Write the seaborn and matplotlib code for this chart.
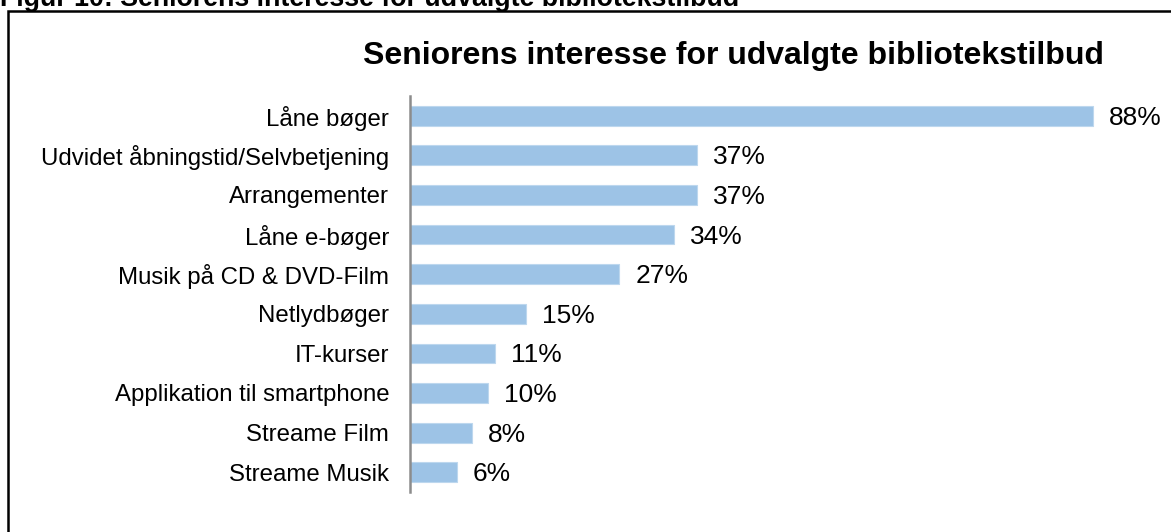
import matplotlib
matplotlib.use("Agg")
import matplotlib.pyplot as plt
import seaborn as sns
import pandas as pd
from matplotlib.patches import Rectangle

categories = [
    "Låne bøger",
    "Udvidet åbningstid/Selvbetjening",
    "Arrangementer",
    "Låne e-bøger",
    "Musik på CD & DVD-Film",
    "Netlydbøger",
    "IT-kurser",
    "Applikation til smartphone",
    "Streame Film",
    "Streame Musik",
]
values = [88, 37, 37, 34, 27, 15, 11, 10, 8, 6]
value_labels = ["88%", "37%", "37%", "34%", "27%", "15%", "11%", "10%", "8%", "6%"]

title = "Seniorens interesse for udvalgte bibliotekstilbud"
header = "Figur 10: Seniorens interesse for udvalgte bibliotekstilbud"

sns.set_theme(style="white")
plt.rcParams["font.family"] = ["Liberation Sans", "DejaVu Sans"]

W, H = 1171, 532
fig = plt.figure(figsize=(W / 100, H / 100), dpi=100)
fig.patch.set_facecolor("white")

# Frame around the figure body
fig.patches.append(Rectangle((8 / W, -0.1), 1.2, (H - 11) / H + 0.1,
                             transform=fig.transFigure, fill=False,
                             edgecolor="black", linewidth=1.8, zorder=0))

# Document caption sitting above the frame
fig.text(0.0, 1 - 6.5 / H, header, fontsize=19.3, fontweight="bold",
         ha="left", va="baseline", color="black")

ax = fig.add_axes([410 / W, 40 / H, 737 / W, 396 / H])
df = pd.DataFrame({"kategori": categories, "andel": values})
sns.barplot(data=df, y="kategori", x="andel", orient="h", ax=ax,
            color="#9DC3E6", saturation=1, width=0.5,
            edgecolor="#BDD7EE", linewidth=0.8)

ax.set_xlim(0, 95)
ax.set_ylim(9.5, -0.5)
ax.set_xlabel("")
ax.set_ylabel("")
ax.set_xticks([])
for s in ["top", "right", "bottom"]:
    ax.spines[s].set_visible(False)
ax.spines["left"].set_color("#8C8C8C")
ax.spines["left"].set_linewidth(1.8)
ax.tick_params(axis="y", length=0, pad=15, labelsize=17.3, labelcolor="black")

for i, (v, lab) in enumerate(zip(values, value_labels)):
    ax.annotate(lab, xy=(v, i), xytext=(11.5, -1.5), textcoords="offset points",
                ha="left", va="center", fontsize=19, color="black")

fig.text(733 / W, 1 - 56 / H, title, fontsize=23, fontweight="bold",
         ha="center", va="center", color="black")

fig.savefig("out.png", dpi=100, facecolor="white")
